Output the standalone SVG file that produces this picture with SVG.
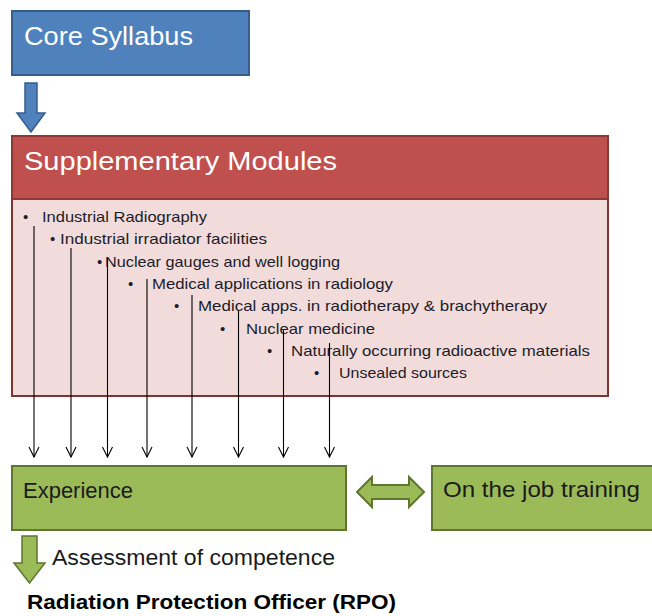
<svg xmlns="http://www.w3.org/2000/svg" width="652" height="616" viewBox="0 0 652 616">
  <style>
    text { font-family: "Liberation Sans", Arial, sans-serif; }
    .title { fill: #ffffff; font-size: 26px; }
    .item { fill: #1c1c2a; font-size: 15px; }
    .green-label { fill: #1a1a1a; font-size: 22px; }
    .plain { fill: #1a1a1a; font-size: 22px; }
    .bold { fill: #000000; font-size: 21px; font-weight: bold; }
    .feed { stroke: #000000; stroke-width: 1.1; fill: none; marker-end: url(#vhead); }
  </style>
  <defs>
    <marker id="vhead" markerUnits="userSpaceOnUse" markerWidth="14" markerHeight="14" viewBox="-2 -7 14 14" refX="10" refY="0" orient="auto">
      <path d="M0,-5 L10,0 L0,5" fill="none" stroke="#000000" stroke-width="1.1"/>
    </marker>
  </defs>

  <rect width="652" height="616" fill="#ffffff"/>

  <!-- Core syllabus -->
  <g id="core-syllabus">
    <rect x="12" y="11" width="237" height="64" fill="#4f81bd" stroke="#385d8a" stroke-width="2"/>
    <text class="title" x="24" y="45" textLength="169" lengthAdjust="spacingAndGlyphs">Core Syllabus</text>
  </g>

  <!-- Supplementary modules -->
  <g id="supplementary-modules">
    <rect x="12" y="199" width="596" height="197" fill="#f2dcdb" stroke="#7f3431" stroke-width="2"/>
    <rect x="12" y="136" width="596" height="63" fill="#c0504d" stroke="#8c3836" stroke-width="2"/>
    <text class="title" x="24" y="170" textLength="313" lengthAdjust="spacingAndGlyphs">Supplementary Modules</text>
    <g class="item">
      <text x="23" y="222">•</text>
      <text x="42" y="222" textLength="165" lengthAdjust="spacingAndGlyphs">Industrial Radiography</text>
      <text x="50" y="244">•</text>
      <text x="60" y="244" textLength="207" lengthAdjust="spacingAndGlyphs">Industrial irradiator facilities</text>
      <text x="97" y="267">•</text>
      <text x="105" y="267" textLength="235" lengthAdjust="spacingAndGlyphs">Nuclear gauges and well logging</text>
      <text x="128" y="289">•</text>
      <text x="152" y="289" textLength="241" lengthAdjust="spacingAndGlyphs">Medical applications in radiology</text>
      <text x="174" y="311">•</text>
      <text x="198" y="311" textLength="349" lengthAdjust="spacingAndGlyphs">Medical apps. in radiotherapy &amp; brachytherapy</text>
      <text x="220" y="334">•</text>
      <text x="246" y="334" textLength="129" lengthAdjust="spacingAndGlyphs">Nuclear medicine</text>
      <text x="267" y="356">•</text>
      <text x="291" y="356" textLength="299" lengthAdjust="spacingAndGlyphs">Naturally occurring radioactive materials</text>
      <text x="314" y="378">•</text>
      <text x="339" y="378" textLength="128" lengthAdjust="spacingAndGlyphs">Unsealed sources</text>
    </g>
  </g>

  <!-- Experience -->
  <g id="experience">
    <rect x="12" y="466" width="334" height="64" fill="#9bbb59" stroke="#5f7530" stroke-width="2"/>
    <text class="green-label" x="23" y="498" textLength="110" lengthAdjust="spacingAndGlyphs">Experience</text>
  </g>

  <!-- On the job training -->
  <g id="on-the-job-training">
    <rect x="432" y="466" width="230" height="64" fill="#9bbb59" stroke="#5f7530" stroke-width="2"/>
    <text class="green-label" x="443" y="497" textLength="197" lengthAdjust="spacingAndGlyphs">On the job training</text>
  </g>

  <!-- Radiation protection officer -->
  <g id="rpo">
    <text class="bold" x="27" y="609" textLength="369" lengthAdjust="spacingAndGlyphs">Radiation Protection Officer (RPO)</text>
  </g>

  <!-- Connectors -->
  <g id="connectors">
    <!-- core syllabus down to the supplementary modules -->
    <path d="M25,83 H37 V113 H45 L31,132 L17,113 H25 Z" fill="#4f81bd" stroke="#385d8a" stroke-width="1.5"/>

    <!-- each module feeds into experience -->
    <line class="feed" x1="34" y1="226" x2="34" y2="457"/>
    <line class="feed" x1="71" y1="248" x2="71" y2="457"/>
    <line class="feed" x1="107.5" y1="258" x2="107.5" y2="457"/>
    <line class="feed" x1="147" y1="279" x2="147" y2="457"/>
    <line class="feed" x1="192" y1="295" x2="192" y2="457"/>
    <line class="feed" x1="238.5" y1="311" x2="238.5" y2="457"/>
    <line class="feed" x1="283.5" y1="330" x2="283.5" y2="457"/>
    <line class="feed" x1="329.5" y1="343" x2="329.5" y2="457"/>

    <!-- experience and on-the-job training exchange -->
    <path d="M357,492 L372,477 V485 H409 V477 L424,492 L409,507 V499 H372 V507 Z" fill="#9bbb59" stroke="#5f7530" stroke-width="2" stroke-linejoin="miter"/>

    <!-- assessment of competence -->
    <path d="M22,536 H37 V563 H45 L29.5,583 L14,563 H22 Z" fill="#9bbb59" stroke="#5f7530" stroke-width="1.5"/>
    <text class="plain" x="52" y="565" textLength="283" lengthAdjust="spacingAndGlyphs">Assessment of competence</text>
  </g>
</svg>
